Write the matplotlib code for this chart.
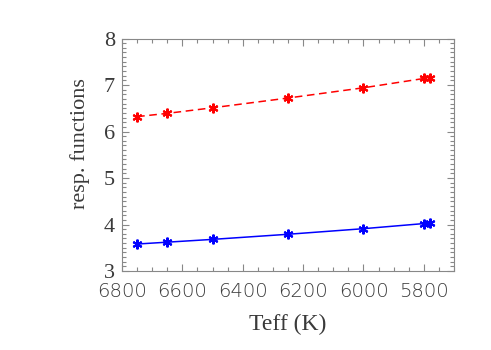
import matplotlib
matplotlib.use('Agg')
import matplotlib.pyplot as plt
from matplotlib.ticker import MultipleLocator

teff = [6750, 6650, 6500, 6250, 6000, 5800, 5780]
resp_red = [6.32, 6.39, 6.51, 6.72, 6.94, 7.14, 7.14]
resp_blue = [3.58, 3.62, 3.68, 3.79, 3.91, 4.02, 4.03]
xticks = [6800, 6600, 6400, 6200, 6000, 5800]
yticks = [3, 4, 5, 6, 7, 8]

frame_col = '#888888'
text_col = '#3a3a3a'
serif = 'Liberation Serif'

fig = plt.figure(figsize=(4.91, 3.5), dpi=100)
ax = fig.add_axes([0.2485, 0.2257, 0.6761, 0.6643])

ax.plot(teff, resp_red, color='red', ls='--', lw=1.1, dashes=(5, 3),
        marker=(6, 2, 0), ms=7, mew=1.5)
ax.plot(teff, resp_blue, color='blue', ls='-', lw=1.1,
        marker=(6, 2, 0), ms=7, mew=1.5)

ax.set_xlim(6800, 5700)
ax.set_ylim(3, 8)
ax.set_xticks(xticks)
ax.set_yticks(yticks)
ax.xaxis.set_minor_locator(MultipleLocator(50))
ax.yaxis.set_minor_locator(MultipleLocator(0.1))

ax.tick_params(which='both', direction='in', top=True, right=True,
               color=frame_col, width=0.8)
ax.tick_params(which='major', length=5)
ax.tick_params(which='minor', length=3)
ax.tick_params(axis='x', pad=8, labelsize=14, labelcolor=text_col)
ax.tick_params(axis='y', pad=5, labelsize=16, labelcolor=text_col)
for lab in ax.get_yticklabels():
    lab.set_family(serif)
for lab in ax.get_xticklabels():
    lab.set_family('DejaVu Sans')
    lab.set_fontweight('light')

for s in ax.spines.values():
    s.set_color(frame_col)
    s.set_linewidth(0.8)

ax.set_xlabel('Teff (K)', family=serif, fontsize=17, color=text_col, labelpad=9)
ax.set_ylabel('resp. functions', family=serif, fontsize=16, color=text_col)
ax.yaxis.set_label_coords(-0.095, 0.55)

fig.savefig('out.png', dpi=100)
